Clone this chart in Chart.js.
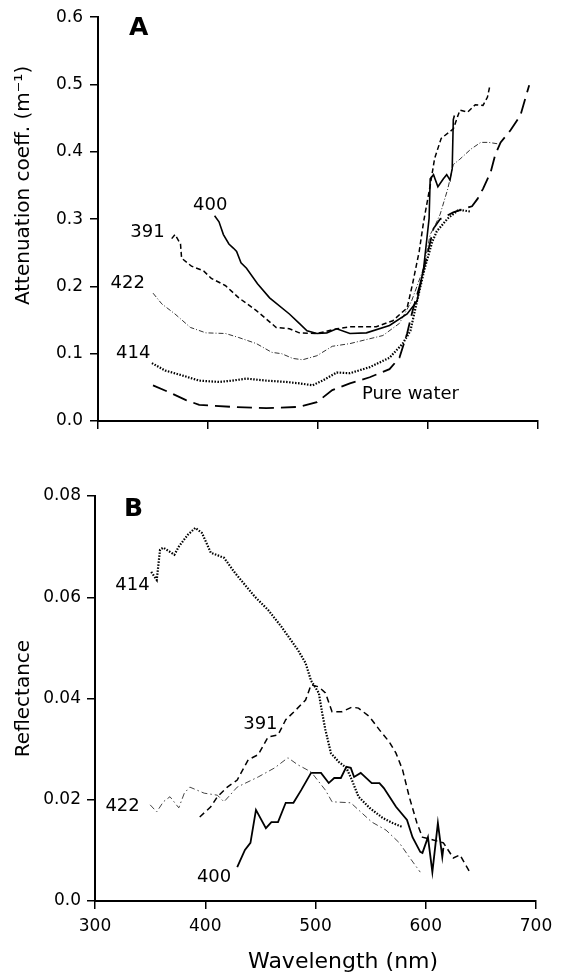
<!DOCTYPE html>
<html>
<head>
<meta charset="utf-8">
<script src="https://cdn.jsdelivr.net/npm/chart.js@4.4.1/dist/chart.umd.min.js"></script>
<style>
    html, body { margin: 0; padding: 0; background: #fff; }
    body { width: 561px; height: 977px; position: relative; overflow: hidden; }
    .panel { position: absolute; left: 0; }
    #panelA { top: 0; }
    #panelB { top: 460px; }
</style>
</head>
<body>
<div class="panel" id="panelA"><canvas id="chartA" width="561" height="460"></canvas></div>
<div class="panel" id="panelB"><canvas id="chartB" width="561" height="517"></canvas></div>
<script>
// axis ticks
var wavelengthTicks = [300, 400, 500, 600, 700];
var wavelengthLabels = ['300', '400', '500', '600', '700'];
var attnTicks = [0, 0.1, 0.2, 0.3, 0.4, 0.5, 0.6];
var attnLabels = ['0.0', '0.1', '0.2', '0.3', '0.4', '0.5', '0.6'];
var reflTicks = [0, 0.02, 0.04, 0.06, 0.08];
var reflLabels = ['0.0', '0.02', '0.04', '0.06', '0.08'];

// panel A - attenuation coefficient (m-1), [wavelength, value]
var attn400 = [[406,0.305],[410,0.296],[414,0.277],[419,0.263],[423,0.257],[426,0.252],[430,0.235],[435,0.227],
    [445,0.204],[456,0.183],[474,0.159],[483,0.145],[490,0.134],[499,0.130],[508,0.131],[517,0.137],[529,0.130],
    [544,0.131],[565,0.142],[581,0.159],[590,0.178],[596,0.227],[601,0.301],[602,0.360],[605,0.366],[609,0.348],
    [614,0.360],[617,0.366],[620,0.358],[622,0.375],[623,0.448],[624,0.454]];
var attn391 = [[367,0.271],[370,0.277],[375,0.263],[376,0.242],[385,0.230],[396,0.223],[403,0.212],[416,0.201],
    [428,0.183],[444,0.164],[462,0.139],[474,0.137],[483,0.131],[499,0.130],[517,0.137],[529,0.140],[553,0.140],
    [568,0.149],[581,0.168],[586,0.204],[592,0.252],[596,0.296],[602,0.350],[606,0.390],[612,0.420],[623,0.434],
    [629,0.462],[636,0.459],[643,0.470],[650,0.469],[654,0.481],[656,0.496]];
var attn422 = [[350,0.190],[358,0.174],[370,0.159],[384,0.139],[398,0.131],[416,0.130],[428,0.124],[444,0.115],
    [458,0.102],[467,0.100],[477,0.093],[486,0.091],[499,0.097],[513,0.111],[529,0.115],[559,0.127],[574,0.145],
    [585,0.178],[596,0.227],[602,0.277],[606,0.289],[611,0.307],[618,0.345],[623,0.381],[629,0.389],[639,0.404],
    [648,0.414],[655,0.414],[663,0.412]];
var attn414 = [[349,0.086],[361,0.075],[376,0.068],[392,0.060],[410,0.058],[422,0.060],[435,0.063],[453,0.060],
    [471,0.058],[483,0.056],[495,0.053],[504,0.060],[517,0.072],[529,0.071],[547,0.080],[565,0.094],[577,0.115],
    [584,0.134],[590,0.178],[597,0.227],[604,0.267],[608,0.282],[618,0.301],[628,0.314],[639,0.311]];
var attnWater = [[350,0.053],[367,0.041],[380,0.031],[392,0.024],[422,0.021],[453,0.019],[483,0.021],[499,0.028],
    [513,0.046],[529,0.056],[547,0.065],[565,0.077],[574,0.094],[581,0.130],[586,0.164],[593,0.204],[600,0.252],
    [605,0.286],[611,0.300],[623,0.310],[634,0.316],[640,0.319],[645,0.330],[650,0.345],[657,0.370],[661,0.395],
    [666,0.414],[675,0.432],[684,0.454],[692,0.499]];

// panel B - reflectance, [wavelength, value]
var refl414 = [[351,0.0650],[356,0.0634],[359,0.0694],[362,0.0698],[372,0.0684],[376,0.0700],[384,0.0723],
    [391,0.0737],[397,0.0727],[405,0.0688],[417,0.0678],[427,0.0648],[445,0.0601],[457,0.0575],[469,0.0542],
    [484,0.0496],[491,0.0470],[496,0.0435],[503,0.0411],[506,0.0372],[509,0.0338],[514,0.0292],[521,0.0275],
    [528,0.0263],[533,0.0239],[539,0.0206],[549,0.0184],[561,0.0164],[570,0.0154],[579,0.0146]];
var refl391 = [[395,0.0166],[405,0.0186],[411,0.0206],[420,0.0225],[429,0.0239],[439,0.0279],[448,0.0289],
    [457,0.0324],[466,0.0328],[473,0.0358],[482,0.0377],[491,0.0397],[496,0.0427],[503,0.0423],[509,0.0411],
    [515,0.0374],[524,0.0374],[533,0.0383],[539,0.0381],[549,0.0364],[558,0.0338],[567,0.0314],[573,0.0292],
    [579,0.0259],[585,0.0206],[592,0.0154],[597,0.0126],[606,0.0121],[616,0.0115],[625,0.0085],[631,0.0091],
    [640,0.0057]];
var refl422 = [[350,0.0190],[356,0.0176],[362,0.0196],[368,0.0206],[376,0.0184],[381,0.0213],[386,0.0225],
    [399,0.0213],[411,0.0209],[417,0.0196],[429,0.0225],[448,0.0245],[463,0.0263],[475,0.0283],[484,0.0269],
    [496,0.0255],[509,0.0219],[515,0.0196],[532,0.0194],[542,0.0174],[551,0.0156],[564,0.0140],[576,0.0115],
    [585,0.0087],[595,0.0057]];
var refl400 = [[429,0.0067],[436,0.0101],[441,0.0115],[446,0.0180],[455,0.0144],[460,0.0156],[466,0.0156],
    [473,0.0194],[480,0.0194],[487,0.0219],[496,0.0253],[505,0.0253],[512,0.0233],[517,0.0243],[523,0.0243],
    [528,0.0265],[532,0.0263],[535,0.0245],[541,0.0253],[551,0.0233],[558,0.0233],[562,0.0223],[573,0.0186],
    [583,0.0160],[588,0.0126],[595,0.0097],[597,0.0095],[602,0.0126],[606,0.0057],[611,0.0154],[615,0.0087],
    [616,0.0105]];

// text placed on the plots, in data units
var attnNotes = [
    { text: 'A', x: 337, y: 0.583, bold: true },
    { text: '400', x: 402, y: 0.321 },
    { text: '391', x: 345, y: 0.280 },
    { text: '422', x: 327, y: 0.205 },
    { text: '414', x: 332, y: 0.100 },
    { text: 'Pure water', x: 584, y: 0.040 }
];
var reflNotes = [
    { text: 'B', x: 335, y: 0.0773, bold: true },
    { text: '414', x: 334, y: 0.0624 },
    { text: '391', x: 450, y: 0.0349 },
    { text: '422', x: 325, y: 0.0187 },
    { text: '400', x: 408, y: 0.0046 }
];

Chart.defaults.font.family = '"DejaVu Sans", sans-serif';
Chart.defaults.color = '#000';

var toPoints = function (arr) {
    return arr.map(function (p) { return { x: p[0], y: p[1] }; });
};

var line = function (arr, dash, width, color) {
    return {
        data: toPoints(arr),
        borderColor: color || '#000',
        borderWidth: width,
        borderDash: dash,
        pointRadius: 0,
        tension: 0,
        fill: false
    };
};

var setTicks = function (values) {
    return function (scale) {
        scale.ticks = values.map(function (v) { return { value: v }; });
    };
};

var tickText = function (labels) {
    return function (value, index) { return labels[index]; };
};

//draws curve labels and axis titles
var notesPlugin = function (notes, titles) {
    return {
        id: 'notes',
        afterDatasetsDraw: function (chart) {
            var ctx = chart.ctx;
            var xs = chart.scales.x;
            var ys = chart.scales.y;
            ctx.save();
            ctx.fillStyle = '#000';
            ctx.textAlign = 'center';
            ctx.textBaseline = 'middle';
            notes.forEach(function (n) {
                ctx.font = n.bold ? 'bold 25px "DejaVu Sans"' : '18px "DejaVu Sans"';
                ctx.fillText(n.text, xs.getPixelForValue(n.x), ys.getPixelForValue(n.y));
            });
            titles.forEach(function (t) {
                ctx.save();
                ctx.font = t.size + 'px "DejaVu Sans"';
                if (t.vertical) {
                    ctx.translate(t.offset, ys.getPixelForValue(t.at));
                    ctx.rotate(-Math.PI / 2);
                } else {
                    ctx.translate(xs.getPixelForValue(t.at), t.offset);
                }
                ctx.fillText(t.text, 0, 0);
                ctx.restore();
            });
            ctx.restore();
        }
    };
};

var axisLook = function (tickLength) {
    return {
        grid: { drawOnChartArea: false, drawTicks: true, tickLength: tickLength, color: '#000', lineWidth: 1.5 },
        border: { display: true, color: '#000', width: 2 }
    };
};

var showAttenuation = function () {
    new Chart(document.getElementById('chartA'), {
        type: 'line',
        data: {
            datasets: [
                line(attn400, [], 1.6),
                line(attn391, [5, 3], 1.5),
                line(attn422, [5, 2, 1, 2], 1, '#333'),
                line(attn414, [1.5, 1.5], 2.2),
                line(attnWater, [15, 7], 1.8)
            ]
        },
        options: {
            responsive: false,
            animation: false,
            layout: { padding: { left: 0, top: 14, right: 23, bottom: 0 } },
            plugins: { legend: { display: false }, tooltip: { enabled: false } },
            scales: {
                x: Object.assign(axisLook(8), {
                    type: 'linear', min: 300, max: 700,
                    afterBuildTicks: setTicks(wavelengthTicks),
                    ticks: { callback: function () { return ''; } },
                    afterFit: function (s) { s.height = 39; }
                }),
                y: Object.assign(axisLook(8), {
                    type: 'linear', min: 0, max: 0.6,
                    afterBuildTicks: setTicks(attnTicks),
                    ticks: { callback: tickText(attnLabels), padding: 7, font: { size: 17 } },
                    afterFit: function (s) { s.width = 98; }
                })
            }
        },
        plugins: [notesPlugin(attnNotes, [
            { text: 'Attenuation coeff. (m\u207B\u00B9)', size: 20, vertical: true, offset: 24, at: 0.35 }
        ])]
    });
};

var showReflectance = function () {
    new Chart(document.getElementById('chartB'), {
        type: 'line',
        data: {
            datasets: [
                line(refl414, [1.5, 1.5], 2.2),
                line(refl391, [6, 4], 1.5),
                line(refl422, [6, 3, 1.5, 3], 1, '#444'),
                line(refl400, [], 1.8)
            ]
        },
        options: {
            responsive: false,
            animation: false,
            layout: { padding: { left: 0, top: 36, right: 25, bottom: 0 } },
            plugins: { legend: { display: false }, tooltip: { enabled: false } },
            scales: {
                x: Object.assign(axisLook(8), {
                    type: 'linear', min: 300, max: 700,
                    afterBuildTicks: setTicks(wavelengthTicks),
                    ticks: { callback: tickText(wavelengthLabels), padding: 7, maxRotation: 0, font: { size: 17 } },
                    afterFit: function (s) { s.height = 76; }
                }),
                y: Object.assign(axisLook(8), {
                    type: 'linear', min: 0, max: 0.08,
                    afterBuildTicks: setTicks(reflTicks),
                    ticks: { callback: tickText(reflLabels), padding: 6, font: { size: 17 } },
                    afterFit: function (s) { s.width = 95; }
                })
            }
        },
        plugins: [notesPlugin(reflNotes, [
            { text: 'Reflectance', size: 20, vertical: true, offset: 24, at: 0.04 },
            { text: 'Wavelength (nm)', size: 22, vertical: false, offset: 502, at: 525 }
        ])]
    });
};

showAttenuation();
showReflectance();
</script>
</body>
</html>
